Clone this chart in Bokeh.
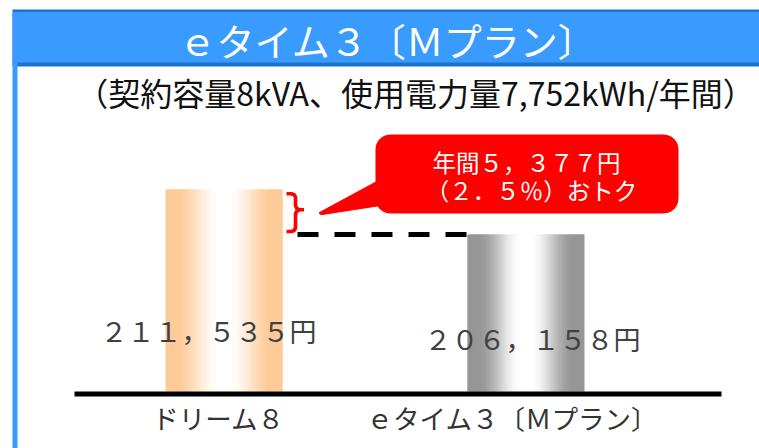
import numpy as np
from bokeh.plotting import figure
from bokeh.models import Range1d
from bokeh.embed import file_html
from bokeh.resources import INLINE
from bokeh.core.properties import value

# ---------------- data ----------------
categories = ["ドリーム８", "ｅタイム３〔Ｍプラン〕"]
annual_cost = [211535, 206158]          # yen / year
title_text = "ｅタイム３〔Ｍプラン〕"
subtitle_text = "（契約容量8kVA、使用電力量7,752kWh/年間）"

FW = str.maketrans("0123456789,.%", "０１２３４５６７８９，．％")
def fw(s):
    return s.translate(FW)

value_labels = [fw(f"{v:,}") + "円" for v in annual_cost]
diff = annual_cost[0] - annual_cost[1]
pct = diff / annual_cost[0] * 100
callout_lines = [fw(f"年間{diff:,}") + "円", fw(f"（{pct:.1f}%）") + "おトク"]

# ---------------- layout ----------------
W, H = 759, 448
FONT = value("Noto Sans CJK JP")

p = figure(width=W, height=H, output_backend="svg", toolbar_location=None,
           x_range=Range1d(0, W), y_range=Range1d(H, 0),
           min_border=0, x_axis_location=None, y_axis_location=None,
           outline_line_color=None, title=None)
p.grid.visible = False
p.background_fill_color = "white"
p.border_fill_color = "white"

# value scale (yen) and category scale
BASE = 187400
px_per_yen = 45 / 5377
base_px = 391
p.extra_y_ranges = {"yen": Range1d(BASE - (H - base_px) / px_per_yen,
                                   BASE + base_px / px_per_yen)}
spacing = 301.8
c0 = 223.5
p.extra_x_ranges = {"cat": Range1d(-c0 / spacing, (W - c0) / spacing)}
bar_w = 117 / spacing

# ---------------- header ----------------
p.quad(left=12, right=W, top=9, bottom=66, fill_color="#1A74CC", line_color=None)
p.quad(left=12, right=W, top=11.5, bottom=62, fill_color="#3A9BFF", line_color=None)
p.quad(left=12, right=17, top=62, bottom=H, fill_color="#3A9BFF", line_color=None)
p.text(x=[387], y=[39], text=[title_text], text_font=FONT, text_font_size="38px",
       text_color="white", text_align="center", text_baseline="middle",
       text_font_style="normal")
p.text(x=[415], y=[91], text=[subtitle_text], text_font=FONT, text_font_size="32px",
       text_color="#111111", text_align="center", text_baseline="middle")

# ---------------- gradient bars ----------------
edge_cols = [np.array([252, 203, 152]), np.array([150, 150, 150])]
N = 60
lefts, rights, tops, bottoms, cols = [], [], [], [], []
for i, v in enumerate(annual_cost):
    l0 = i - bar_w / 2
    sw = bar_w / N
    for j in range(N):
        t = (j + 0.5) / N
        d = abs(t - 0.5) * 2
        f = min(1.0, max(0.0, (d - 0.08) / 0.74))
        f = f * f * (3 - 2 * f)
        c = 255 + (edge_cols[i] - 255) * f
        lefts.append(l0 + j * sw)
        rights.append(min(l0 + (j + 2) * sw, i + bar_w / 2))
        tops.append(v)
        bottoms.append(BASE)
        cols.append("#%02x%02x%02x" % tuple(int(round(x)) for x in c))
p.quad(left=lefts, right=rights, top=tops, bottom=bottoms, fill_color=cols,
       line_color=None, x_range_name="cat", y_range_name="yen")

# baseline
p.quad(left=74, right=721, top=391, bottom=396, fill_color="black", line_color=None)

# dashed level line at second bar
p.segment(x0=[0 + bar_w / 2 + 15 / spacing], x1=[1 - bar_w / 2],
          y0=[annual_cost[1]], y1=[annual_cost[1]], line_color="black",
          line_width=5, line_dash="21 16", line_cap="butt",
          x_range_name="cat", y_range_name="yen")

# red bracket
p.line(x=[286, 291, 293.6, 295, 295, 296, 298.5, 303.5],
       y=[193.3, 193.3, 194.2, 196.5, 205, 207.6, 209.3, 209.3],
       line_color="red", line_width=3.6, line_join="round")
p.line(x=[298.5, 296, 295, 295, 293.6, 291, 286],
       y=[209.3, 211, 213.5, 227.5, 230, 231, 231],
       line_color="red", line_width=3.6, line_join="round")

# callout
L, R, T, B, r = 375, 678, 134, 213, 15
pts = []
for (cx, cy, a0) in [(R - r, T + r, -90), (R - r, B - r, 0), (L + r, B - r, 90), (L + r, T + r, 180)]:
    for a in np.linspace(a0, a0 + 90, 10):
        pts.append((cx + r * np.cos(np.radians(a)), cy + r * np.sin(np.radians(a))))
p.patch(x=[q[0] for q in pts], y=[q[1] for q in pts], fill_color="#FF0000", line_color=None)
p.patch(x=[318.5, 380, 380, 320.5], y=[212.3, 179, 205, 214.2],
        fill_color="#FF0000", line_color="#FF0000", line_width=1, line_join="round")
p.text(x=[526, 531], y=[161, 189], text=callout_lines, text_font=FONT,
       text_font_size="23.5px", text_color="white", text_align="center",
       text_baseline="middle")

# value labels
p.text(x=[-0.051, 1.022], y=[330, 338], text=value_labels, text_font=FONT,
       text_font_size="27px", text_color="#404040", text_align="center",
       text_baseline="middle", x_range_name="cat")

# category labels
p.text(x=[-0.018, 0.955], y=[417, 417], text=categories, text_font=FONT,
       text_font_size="26.5px", text_color="#333333", text_align="center",
       text_baseline="middle", x_range_name="cat")

open("out.html", "w").write(file_html(p, INLINE))
